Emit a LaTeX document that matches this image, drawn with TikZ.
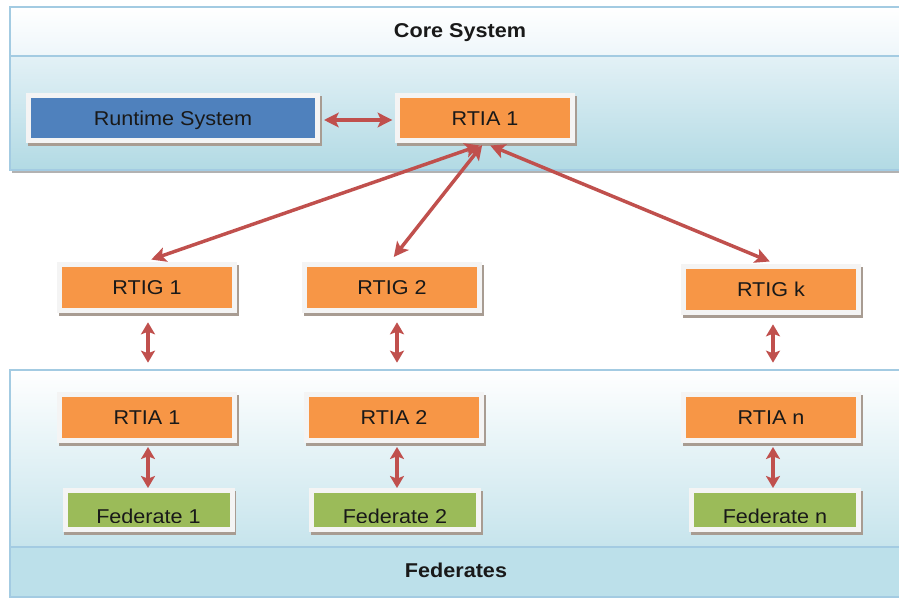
\documentclass[tikz,border=0pt]{standalone}
\usepackage{fontspec}
\setmainfont{Liberation Sans}[FakeStretch=1.08]
\usetikzlibrary{arrows.meta,calc}
\newcommand\pxu{0.75pt}
\definecolor{orng}{HTML}{F79646}
\definecolor{blu}{HTML}{4F81BD}
\definecolor{grn}{HTML}{9BBB59}
\definecolor{arr}{HTML}{C0504D}
\definecolor{pborder}{HTML}{A3CBE2}
\definecolor{band}{HTML}{BCE0EA}
\definecolor{framec}{HTML}{F4F4F4}
\definecolor{shad}{HTML}{A89C92}
\definecolor{headlo}{HTML}{EEF6FA}
\definecolor{corehi}{HTML}{E3F1F6}
\definecolor{corelo}{HTML}{B2DAE4}
\definecolor{fedlo}{HTML}{C6E4EC}
\tikzset{
  box/.style={rectangle, draw=framec, line width=3.75pt, inner sep=0pt,
    text=black!90, font=\fontsize{15}{18}\selectfont, text height=10.7pt, text depth=0pt,
    preaction={draw=shad, line width=3.75pt, transform canvas={xshift=1.4pt, yshift=-2pt}}},
  wide/.style={minimum width={289*\pxu}, minimum height={45*\pxu}},
  std/.style={minimum width={175*\pxu}, minimum height={46*\pxu}},
  fed/.style={minimum width={167*\pxu}, minimum height={39*\pxu}},
  title/.style={font=\bfseries\fontsize{15}{18}\selectfont, text=black!90, inner sep=0pt,
    text height=10.7pt, text depth=0pt},
  lbl/.style={font=\fontsize{15}{18}\selectfont, text=black!90, inner sep=0pt},
  panel/.style={draw=pborder, line width=1.2pt},
  arrw/.style={draw=arr, line width=2.6pt,
    {Stealth[length=11pt,width=11pt,inset=2.5pt]}-{Stealth[length=11pt,width=11pt,inset=2.5pt]}},
  varrw/.style={draw=arr, line width=3pt,
    {Stealth[length=9pt,width=10.5pt,inset=2pt]}-{Stealth[length=9pt,width=10.5pt,inset=2pt]}}
}
\begin{document}
\begin{tikzpicture}[x=0.75pt,y=-0.75pt]
\useasboundingbox (0,0) rectangle (899,598);
% Core panel
\fill[black!30] (12,169) rectangle (905,173);
\draw[panel, top color=white, bottom color=headlo] (10,7) rectangle (905,56);
\draw[panel, top color=corehi, bottom color=corelo] (10,56) rectangle (905,170);
\node[title] (coretitle) at (460,30) {Core System};
% Federates panel
\draw[panel, top color=white, bottom color=fedlo] (10,370) rectangle (905,547);
\draw[panel, fill=band] (10,547) rectangle (905,597);
\node[title] (fedtitle) at (456,570) {Federates};
\coordinate (fedtop) at (0,370);
% boxes
\node[box, wide, fill=blu] (runtime) at (173,118) {Runtime System};
\node[box, std, minimum height={45*\pxu}, fill=orng] (rtiatop) at (485,118) {RTIA 1};
\node[box, std, fill=orng] (rtig1) at (147,287.5) {RTIG 1};
\node[box, std, fill=orng] (rtig2) at (392,287.5) {RTIG 2};
\node[box, std, fill=orng] (rtigk) at (771,289.5) {RTIG k};
\node[box, std, fill=orng] (rtia1) at (147,417.5) {RTIA 1};
\node[box, std, fill=orng] (rtia2) at (394,417.5) {RTIA 2};
\node[box, std, fill=orng] (rtian) at (771,417.5) {RTIA n};
\node[box, fed, fill=grn] (fed1) at (148.5,510) {};
\node[box, fed, fill=grn] (fed2) at (395,510) {};
\node[box, fed, fill=grn] (fedn) at (775,510) {};
\begin{scope}
  \clip ($(fed1.center)+(-80,-20)$) rectangle ($(fed1.center)+(80,12)$);
  \node[lbl, anchor=base] (fed1t) at ($(fed1.center)+(0,13)$) {Federate 1};
\end{scope}
\begin{scope}
  \clip ($(fed2.center)+(-80,-20)$) rectangle ($(fed2.center)+(80,12)$);
  \node[lbl, anchor=base] (fed2t) at ($(fed2.center)+(0,13)$) {Federate 2};
\end{scope}
\begin{scope}
  \clip ($(fedn.center)+(-80,-20)$) rectangle ($(fedn.center)+(80,12)$);
  \node[lbl, anchor=base] (fednt) at ($(fedn.center)+(0,13)$) {Federate n};
\end{scope}
% arrows
\draw[arrw, shorten <=3pt, shorten >=2pt] ($(runtime.east)+(0,2)$) -- ($(rtiatop.west)+(0,2)$);
\draw[arrw, shorten <=1pt, shorten >=1pt] ($(rtiatop.south)+(-4,2)$) -- ($(rtig1.north)+(3,-2)$);
\draw[arrw, shorten <=1pt, shorten >=1pt] ($(rtiatop.south)+(-2,1)$) -- ($(rtig2.north)+(1,-4)$);
\draw[arrw, shorten <=1pt, shorten >=1pt] ($(rtiatop.south)+(4,2)$) -- ($(rtigk.north)+(0,-2)$);
\draw[varrw, shorten <=7pt, shorten >=5.5pt] ($(rtig1.south)+(1,0)$) -- ($(rtig1.south |- fedtop)+(1,0)$);
\draw[varrw, shorten <=7pt, shorten >=5.5pt] ($(rtig2.south)+(5,0)$) -- ($(rtig2.south |- fedtop)+(5,0)$);
\draw[varrw, shorten <=7pt, shorten >=5.5pt] ($(rtigk.south)+(2,0)$) -- ($(rtigk.south |- fedtop)+(2,0)$);
\draw[varrw, shorten <=3pt, shorten >=0pt] ($(rtia1.south)+(1,0)$) -- ($(rtia1.south |- fed1.north)+(1,0)$);
\draw[varrw, shorten <=3pt, shorten >=0pt] ($(rtia2.south)+(3,0)$) -- ($(rtia2.south |- fed2.north)+(3,0)$);
\draw[varrw, shorten <=3pt, shorten >=0pt] ($(rtian.south)+(2,0)$) -- ($(rtian.south |- fedn.north)+(2,0)$);
\end{tikzpicture}
\end{document}
